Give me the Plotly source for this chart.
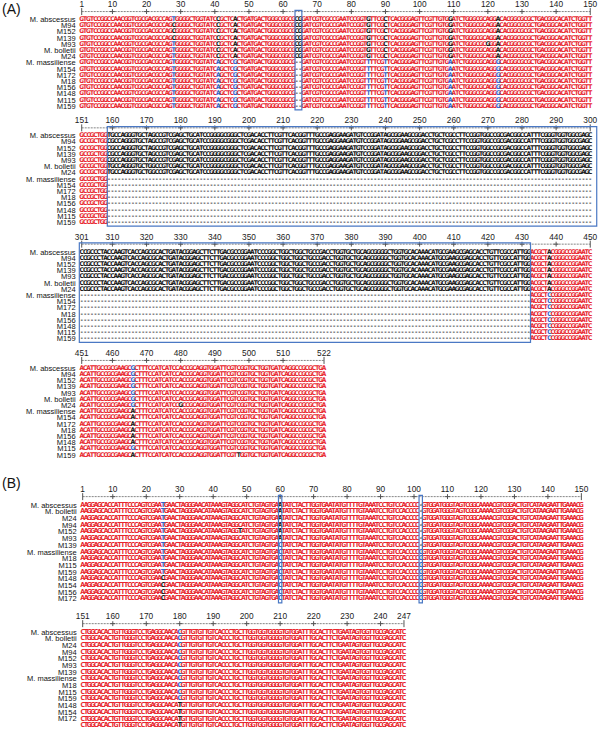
import plotly.graph_objects as go

# ---------------- data ----------------
A_names = ["M. abscessus", "M94", "M152", "M139", "M93", "M. bolletii", "M24",
           "M. massiliense", "M154", "M172", "M18", "M156", "M148", "M115", "M159"]
B1_names = ["M. abscessus", "M. bolletii", "M24", "M94", "M152", "M93", "M139",
            "M. massiliense", "M18", "M115", "M159", "M148", "M154", "M156", "M172"]
B2_names = ["M. abscessus", "M. bolletii", "M24", "M94", "M152", "M93", "M139",
            "M. massiliense", "M18", "M115", "M159", "M148", "M154", "M172", "M156"]

# reference (first row) residues of each 150-column block
A1_ref = ("GTGTCCGGCCAACGGTCGCGACGCCAGTGGGGCTG" "GTATCCGCTCACTGATGACTGGGCGGCG" "CG"
          "GATCGTCGCCGAATCCGGTGTTCGCTCA" "C" "GGGAGTTCGTTGTGGATCTGGGCGCAGGACACGGCGCGCTGACGGCACATCTGGTT")
A2_ref = ("GCCGCTGG" "TGCCAGGGTGCTAGCCGTCGAGCTGCA"
          "TCCGGGGCGGGCTCGACACCTTCGTTCACGGTTTGCCGAGGAAGATGTCCGGATAGCG"
          "GAAGCGGACCTGCTCGCCTTCCGGTGGCCGCGACGGCCATTTCGGGTGGTGGCGAGC")
A3_ref = ("CCGCCCTACCAAGTCACCAGCGCACTGATACGGAG"
          "CTTCTTGACGCCGGAATCCCGGCTGGCTGGCTGCCGACCTGGTGCTGCAGCGGGGCTG"
          "GTGCACAAACATGCGAAGCGAGCACCTGTTCGCCATTGG" "ACGCTACGGGCCGGAATC")
A4_ref = "ACATTGCCGCGAAGCGCTTTCCATCATCCACCGCAGGTGGATTCGTCGGTGCTGGTGATCAGGCCGCGCTGA"
B1_ref = ("AAGGAGCACCATTTCCCAGTCGAATGAACTAGGGAACATAAAGTAGGCATCTGTAGTGA" "A"
          "TATCTACTTGGTGAATATGTTTTGTAAATCCTGTCCACCCC" "-"
          "GTGGATGGGTAGTCGGCAAAACGTCGGACTGTCATAAGAATTGAAACG")
B2_ref = ("CTGGCACACTGTTGGGTCCTGAGGCAACA" "C"
          "GTTGTGTTGTCACCCTGCTTGGTGGTGGGGTGTGGATTTGCACTTCTGAATAGTGGTTGCGAGCATC")

# block start positions and ruler labels
A_starts = [1, 151, 301, 451]
B_starts = [1, 151]
A_ticks = [[1, 10, 20, 30, 40, 50, 60, 70, 80, 90, 100, 110, 120, 130, 140, 150],
           [151, 160, 170, 180, 190, 200, 210, 220, 230, 240, 250, 260, 270, 280, 290, 300],
           [301, 310, 320, 330, 340, 350, 360, 370, 380, 390, 400, 410, 420, 430, 440, 450],
           [451, 460, 470, 480, 490, 500, 510, 522]]
B_ticks = [[1, 10, 20, 30, 40, 50, 60, 70, 80, 90, 100, 110, 120, 130, 140, 150],
           [151, 160, 170, 180, 190, 200, 210, 220, 230, 240, 247]]

# insertion present only in the first 7 rows (block, first col, end col)
A_ins = [(1, 8, 150), (2, 0, 132)]
# variable columns: (block, col, residue per row, class per row)
# class: r = conserved, k = variant type 1, b = variant type 2, g = gap
A_var = [
    (0, 27, "TCCCTTTTTTTTTTT", "bkkkbbbbbbbbbbb"),
    (0, 40, "CCCCCCCAAAAAAAA", "kkkkkkkbbbbbbbb"),
    (0, 45, "AAAAAAAGGGGGGGG", "kkkkkkkbbbbbbbb"),
    (0, 63, "CCCCCCC--------", "kkkkkkkgggggggg"),
    (0, 64, "GGGGGGG--------", "kkkkkkkgggggggg"),
    (0, 84, "GGGGGGGTTTTTTTT", "kkkkkkkbbbbbbbb"),
    (0, 89, "CCCCCCCTTTTTTTT", "kkkkkkkbbbbbbbb"),
    (0, 108, "GGGGGGGAAAAAAAA", "kkkkkkkbbbbbbbb"),
    (0, 119, "AAAAGAAAAAAAAAA", "rrrrkrrrrrrrrrr"),
    (0, 122, "AAAAAAAGGGGGGGG", "kkkkkkkbbbbbbbb"),
    (1, 8, "TCCCCTT--------", "kkkkkkkgggggggg"),
    (1, 20, "AAAAAGG--------", "kkkkkkkgggggggg"),
    (2, 137, "AAAAAAACCCCCCCC", "kkkkkkkbbbbbbbb"),
    (3, 15, "GGGGGGGAAAAAAGA", "bbbbbbbkkkkkkbk"),
    (3, 29, "AAAAAAGAAAAAAAA", "rrrrrrkrrrrrrrr"),
    (3, 46, "CCCCCCCCCCCCCCT", "rrrrrrrrrrrrrrk"),
]
B_var = [
    (0, 24, "TTTTTTTTTTTCCCC", "bbbbbbbbbbbkkkk"),
    (0, 47, "CCCCTCCCCCCCCCC", "rrrrkrrrrrrrrrr"),
    (0, 59, "AAAAAACCCCCCCCC", "kkkkkkbbbbbbbbb"),
    (0, 101, "-------CCCCCCCC", "gggggggbbbbbbbb"),
    (1, 29, "CCCCCCCCCCCTTTT", "bbbbbbbbbbbkkkk"),
]
# highlighted column ranges (block, first col, last col)
A_boxes = [(0, 63, 64), (1, 8, 150), (2, -0.2, 131)]
B_boxes = [(0, 59, 59), (0, 101, 101)]

# ---------------- drawing ----------------
COLORS = {'r': '#e8262e', 'k': '#151515', 'b': '#2f62c8', 'g': '#3a3a3a'}
RES_FONT = "Liberation Sans Narrow, DejaVu Sans Condensed, Arial Narrow, DejaVu Sans Mono"
LAB_FONT = "Liberation Sans, Arial"
W, H = 600, 729
fig = go.Figure()
layout_axes = {}
shapes = []


def add_block(idx, names, ref, start, ticks, var, ins, boxes, x0px, colw, row0px, rowh, fs):
    sfx = '' if idx == 1 else str(idx)
    xa, ya = 'x' + sfx, 'y' + sfx
    n = len(ref)
    nr = len(names)
    seq = [list(ref) for _ in range(nr)]
    cls = [['r'] * n for _ in range(nr)]
    for (c0, c1) in ins:
        for r in range(nr):
            for c in range(c0, c1):
                if r < 7:
                    cls[r][c] = 'k'
                else:
                    seq[r][c] = '-'
                    cls[r][c] = 'g'
    for (c, res, cl) in var:
        for r in range(nr):
            seq[r][c] = res[r]
            cls[r][c] = cl[r]
    for key in 'rkbg':
        xs, ys, ts = [], [], []
        for r in range(nr):
            for c in range(n):
                if cls[r][c] == key:
                    xs.append(c); ys.append(r); ts.append(seq[r][c])
        fig.add_trace(go.Scatter(x=xs, y=ys, text=ts, mode='text', cliponaxis=False,
                                 textfont=dict(family=RES_FONT, size=fs, color=COLORS[key], weight='bold'),
                                 xaxis=xa, yaxis=ya, hoverinfo='skip', showlegend=False))
    # ruler
    ry = -1.25
    fig.add_trace(go.Scatter(x=[0, n - 1], y=[ry, ry], mode='lines',
                             line=dict(color='#777777', width=0.9, dash='2px,1px'),
                             xaxis=xa, yaxis=ya, hoverinfo='skip', showlegend=False))
    tc = [t - start for t in ticks]
    mids = [c for c in tc if c % 10 == 9 and c != n - 1]
    fig.add_trace(go.Scatter(x=mids, y=[ry] * len(mids), mode='markers',
                             marker=dict(symbol='cross-thin', size=3.5, line=dict(width=1, color='#555555')),
                             xaxis=xa, yaxis=ya, hoverinfo='skip', showlegend=False))
    fig.add_trace(go.Scatter(x=[0, n - 1], y=[ry, ry], mode='markers',
                             marker=dict(symbol='line-ns', size=5, line=dict(width=1, color='#555555')),
                             xaxis=xa, yaxis=ya, hoverinfo='skip', showlegend=False))
    fig.add_trace(go.Scatter(x=tc, y=[-2.3] * len(tc), text=[str(t) for t in ticks], mode='text',
                             cliponaxis=False,
                             textfont=dict(family='Liberation Sans, Arial', size=8.3, color='#222222'),
                             xaxis=xa, yaxis=ya, hoverinfo='skip', showlegend=False))
    # axes placement (pixel geometry -> paper domain)
    xr = [-1.5, 151.5]
    left = x0px + (xr[0] + 0.5) * colw
    right = x0px + (xr[1] + 0.5) * colw
    top = max(row0px - 3.2 * rowh, 0.0)
    bot = min(row0px + 15.0 * rowh, float(H))
    yhi = (top - row0px) / rowh
    ylo = (bot - row0px) / rowh
    layout_axes['xaxis' + sfx] = dict(domain=[left / W, right / W], range=xr, visible=False,
                                      anchor=ya, fixedrange=True, automargin=False)
    layout_axes['yaxis' + sfx] = dict(domain=[1 - bot / H, 1 - top / H], range=[ylo, yhi], anchor=xa,
                                      tickmode='array', tickvals=list(range(nr)), ticktext=names,
                                      showgrid=False, zeroline=False, showline=False, ticks='',
                                      tickfont=dict(family=LAB_FONT, size=7.5, color='#111111'),
                                      fixedrange=True, automargin=False)
    for (c0, c1) in boxes:
        x1 = c1 + 0.5 if c1 < 149 else c1 + 0.9
        shapes.append(dict(type='rect', xref=xa, yref=ya, x0=c0 - 0.5, x1=x1, y0=ry - 0.2, y1=14.6,
                           line=dict(color='#4a78c4', width=1.2), fillcolor='rgba(0,0,0,0)', layer='above'))


A_refs = [A1_ref, A2_ref, A3_ref, A4_ref]
for k in range(4):
    add_block(k + 1, A_names, A_refs[k], A_starts[k], A_ticks[k],
              [(c, r, cl) for (b, c, r, cl) in A_var if b == k],
              [(c0, c1) for (b, c0, c1) in A_ins if b == k],
              [(c0, c1) for (b, c0, c1) in A_boxes if b == k],
              80.0, 3.413, 19.3 + 116.3 * k, 6.2, 6.5)

B_refs = [B1_ref, B2_ref]
B_names = [B1_names, B2_names]
B_row0 = [505.0, 632.0]
B_rowh = [6.7, 6.68]
for k in range(2):
    add_block(k + 5, B_names[k], B_refs[k], B_starts[k], B_ticks[k],
              [(c, r, cl) for (b, c, r, cl) in B_var if b == k],
              [],
              [(c0, c1) for (b, c0, c1) in B_boxes if b == k],
              81.0, 3.347, B_row0[k], B_rowh[k], 6.8)

fig.update_layout(
    width=W, height=H, margin=dict(l=0, r=0, t=0, b=0, autoexpand=False),
    paper_bgcolor='white', plot_bgcolor='white', showlegend=False,
    shapes=shapes,
    annotations=[
        dict(text='(A)', x=0, y=1 - 9 / H, xref='paper', yref='paper', xanchor='left', yanchor='middle',
             showarrow=False, font=dict(family='Liberation Sans, Arial', size=14, color='#111111')),
        dict(text='(B)', x=0, y=1 - 483 / H, xref='paper', yref='paper', xanchor='left', yanchor='middle',
             showarrow=False, font=dict(family='Liberation Sans, Arial', size=14, color='#111111')),
    ],
    **layout_axes
)
fig.write_html("out.html", config={'displayModeBar': False},
               post_script="document.body.style.margin='0px';")
